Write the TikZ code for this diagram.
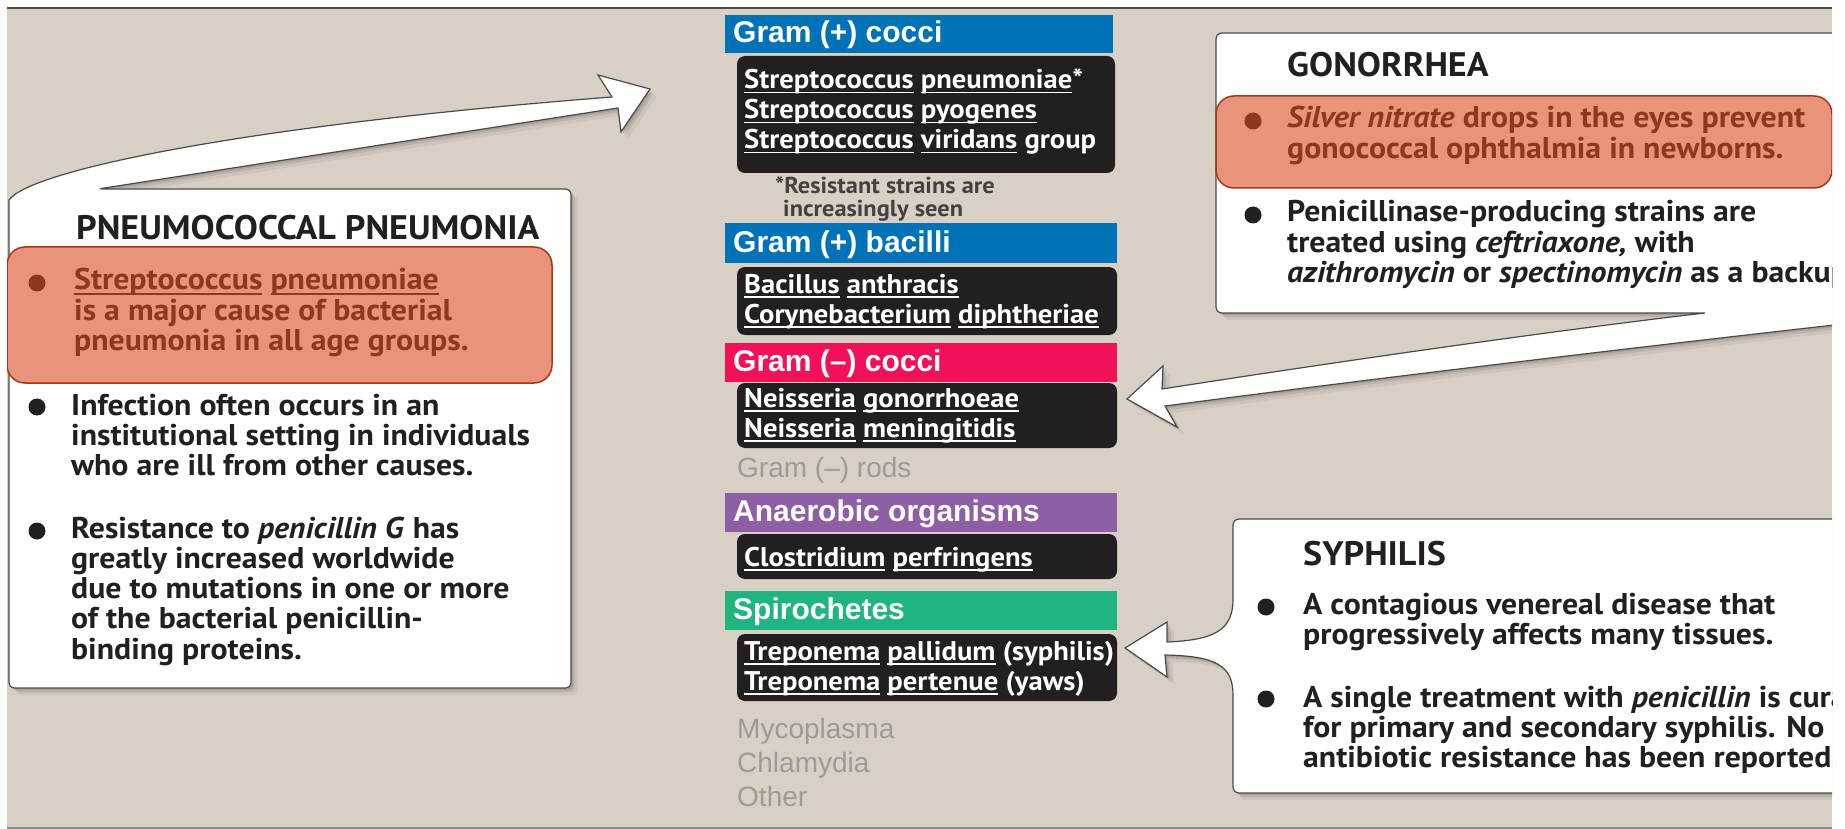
\documentclass[tikz,border=0pt]{standalone}
\usepackage{fontspec}
\newfontfamily\bodyf[FakeStretch=1.06]{PT Sans}
\newfontfamily\headf{Liberation Sans}
\definecolor{bg}{RGB}{217,208,197}
\definecolor{ink}{RGB}{35,31,32}
\definecolor{gblue}{RGB}{0,114,184}
\definecolor{gpink}{RGB}{242,17,88}
\definecolor{gpurple}{RGB}{143,95,166}
\definecolor{ggreen}{RGB}{31,181,126}
\definecolor{hlfill}{RGB}{232,147,122}
\definecolor{hlline}{RGB}{163,58,28}
\definecolor{hltext}{RGB}{139,58,30}
\definecolor{graytxt}{RGB}{158,154,150}
\definecolor{edge}{RGB}{74,74,74}
\newcommand\ulw[1]{\setbox0=\hbox{#1}\rlap{\rule[-4.5pt]{\wd0}{1.4pt}}\box0\relax}
\newcommand\lns[1]{\begin{tabular}[t]{@{}l@{}}#1\end{tabular}}
\tikzset{
  softshadow/.style={
    preaction={fill=black,opacity=0.06,transform canvas={shift={(7pt,-7pt)}}},
    preaction={fill=black,opacity=0.08,transform canvas={shift={(4pt,-4pt)}}},
    preaction={fill=black,opacity=0.10,transform canvas={shift={(2pt,-2pt)}}}},
  panel/.style={fill=white, draw=edge, line width=1.2pt, softshadow},
  hlbox/.style={fill=hlfill, draw=hlline, line width=1.5pt, rounded corners=18pt},
  blkbox/.style={fill=ink, rounded corners=8pt},
  body/.style={anchor=base west, inner sep=0pt, text=ink,
    font=\bodyf\bfseries\fontsize{30}{30}\selectfont},
  hltxt/.style={body, text=hltext},
  ttl/.style={anchor=base west, inner sep=0pt, text=ink,
    font=\bodyf\bfseries\fontsize{34}{34}\selectfont},
  blk/.style={anchor=base west, inner sep=0pt, text=white,
    font=\bodyf\bfseries\fontsize{27}{30}\selectfont},
  bartxt/.style={anchor=base west, inner sep=0pt, text=white,
    font=\headf\bfseries\fontsize{30}{30}\selectfont},
  graytext/.style={anchor=base west, inner sep=0pt, text=graytxt,
    font=\headf\fontsize{28}{34}\selectfont},
  note/.style={anchor=base west, inner sep=0pt, text=ink!85,
    font=\bodyf\bfseries\fontsize{23}{21}\selectfont},
}
\begin{document}
\begin{tikzpicture}[x=1pt,y=-1pt]
\useasboundingbox (0,0) rectangle (1845,829);
\fill[white] (0,0) rectangle (1845,829);
\fill[bg] (7,8) rectangle (1832,829);
\begin{scope}
\clip (7,8) rectangle (1832,829);

% ---------- left panel with arrow ----------
\path[panel] (9,400) [rounded corners=5pt] -- (9,688) -- (571,688) -- (571,189) -- (98,189)
  [sharp corners] -- (618,108) -- (621,132) -- (650,89) -- (598,75) -- (612,97)
  .. controls (250,125) and (30,170) .. (9,200) -- cycle;
\path[hlbox] (7,247) rectangle (552,383);
\node[ttl] (pntitle) at (76,240) {PNEUMOCOCCAL PNEUMONIA};
\fill[hltext] (37,283) circle (8.5pt);
\node[hltxt] (pn1) at (74,290) {\lns{\ulw{Streptococcus} \ulw{pneumoniae}\\ is a major cause of bacterial\\ pneumonia in all age groups.}};
\fill[ink] (37,407) circle (8.5pt);
\node[body] (pn2) at (71,415) {\lns{Infection often occurs in an\\ institutional setting in individuals\\ who are ill from other causes.}};
\fill[ink] (37,531) circle (8.5pt);
\node[body] (pn3) at (71,538) {\lns{Resistance to \textit{penicillin G} has\\ greatly increased worldwide\\ due to mutations in one or more\\ of the bacterial penicillin-\\ binding proteins.}};

% ---------- gonorrhea panel with arrow ----------
\path[panel] (1216,200) [rounded corners=6pt] -- (1216,33) -- (1870,33) -- (1870,321)
  [sharp corners] .. controls (1700,340) and (1400,375) .. (1165,406)
  -- (1177,427) -- (1127,399) -- (1163,366) -- (1162,389)
  .. controls (1400,352) and (1600,325) .. (1705,313)
  [rounded corners=6pt] -- (1216,313) -- cycle;
\path[hlbox] (1216,96) rectangle (1832,188);
\node[ttl] (gotitle) at (1287,77) {GONORRHEA};
\fill[hltext] (1253,121) circle (8.5pt);
\node[hltxt] (go1) at (1287,128) {\lns{\textit{Silver nitrate} drops in the eyes prevent\\ gonococcal ophthalmia in newborns.}};
\fill[ink] (1253,215) circle (8.5pt);
\node[body] (go2) at (1287,222) {\lns{Penicillinase-producing strains are\\ treated using \textit{ceftriaxone,} with\\ \textit{azithromycin} or \textit{spectinomycin} as a backup.}};

% ---------- syphilis panel with callout ----------
\path[panel] (1233,700) [rounded corners=6pt] -- (1233,793) -- (1870,793) -- (1870,519) -- (1233,519) -- (1233,593)
  [sharp corners] .. controls (1233,630) and (1215,640) .. (1167,642)
  -- (1167,622) -- (1125,648) -- (1167,677) -- (1165,655)
  .. controls (1215,656) and (1233,665) .. (1233,695) -- cycle;
\node[ttl] (sytitle) at (1303,565) {SYPHILIS};
\fill[ink] (1266,607) circle (8.5pt);
\node[body] (sy1) at (1303,614) {\lns{A contagious venereal disease that\\ progressively affects many tissues.}};
\fill[ink] (1266,699) circle (8.5pt);
\node[body] (sy2) at (1303,707) {\lns{A single treatment with \textit{penicillin} is curative\\ for primary and secondary syphilis. No\\ antibiotic resistance has been reported.}};

% ---------- centre column ----------
\fill[gblue] (725,15) rectangle (1113,53);
\node[bartxt] (h1) at (733,43) {Gram (+) cocci};
\path[blkbox] (737,56) rectangle (1115,173);
\node[blk] (s1) at (744,89) {\lns{\ulw{Streptococcus} \ulw{pneumoniae}*\\ \ulw{Streptococcus} \ulw{pyogenes}\\ \ulw{Streptococcus} \ulw{viridans} group}};
\node[note] (nt) at (775,194) {\lns{*Resistant strains are\\ \hspace*{8pt}increasingly seen}};

\fill[gblue] (725,223) rectangle (1117,263);
\node[bartxt] (h2) at (733,252) {Gram (+) bacilli};
\path[blkbox] (737,267) rectangle (1117,335);
\node[blk] (s2) at (744,293) {\lns{\ulw{Bacillus} \ulw{anthracis}\\ \ulw{Corynebacterium} \ulw{diphtheriae}}};

\fill[gpink] (725,343) rectangle (1117,382);
\node[bartxt] (h3) at (733,371) {Gram (–) cocci};
\path[blkbox] (737,383) rectangle (1117,448);
\node[blk] (s3) at (744,407) {\lns{\ulw{Neisseria} \ulw{gonorrhoeae}\\ \ulw{Neisseria} \ulw{meningitidis}}};

\node[graytext] (g1) at (737,477) {Gram (–) rods};

\fill[gpurple] (725,493) rectangle (1117,532);
\node[bartxt] (h4) at (733,521) {Anaerobic organisms};
\path[blkbox] (737,534) rectangle (1117,579);
\node[blk] (s4) at (744,566) {\ulw{Clostridium} \ulw{perfringens}};

\fill[ggreen] (725,591) rectangle (1117,630);
\node[bartxt] (h5) at (733,619) {Spirochetes};
\path[blkbox] (737,634) rectangle (1117,701);
\node[blk] (s5) at (744,660) {\lns{\ulw{Treponema} \ulw{pallidum} (syphilis)\\ \ulw{Treponema} \ulw{pertenue} (yaws)}};

\node[graytext] (g2) at (737,738) {\lns{Mycoplasma\\ Chlamydia\\ Other}};
\end{scope}

\draw[line width=2pt, black!70] (7,8) -- (1832,8);
\draw[line width=1.2pt, black!45] (7,828) -- (1832,828);
\end{tikzpicture}
\end{document}
